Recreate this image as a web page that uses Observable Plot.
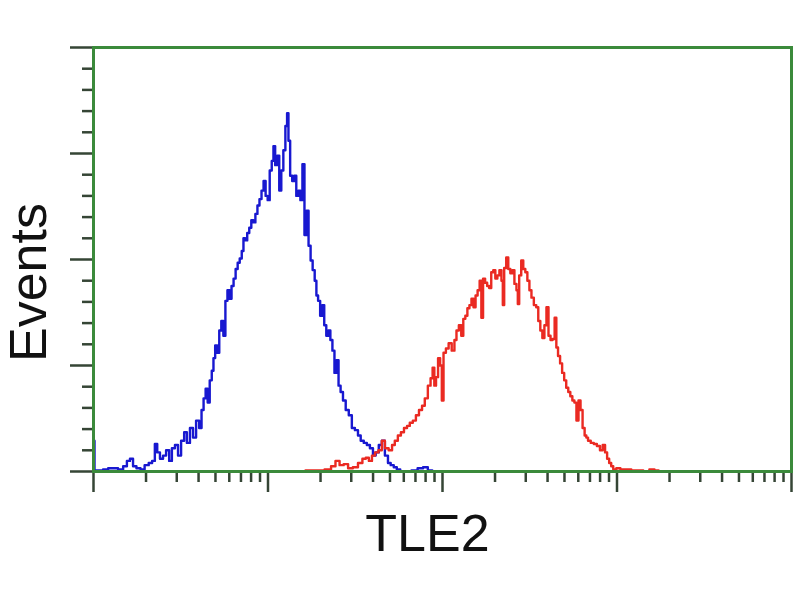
<!DOCTYPE html>
<html>
<head>
<meta charset="utf-8">
<script src="https://cdn.jsdelivr.net/npm/d3@7"></script>
<script src="https://cdn.jsdelivr.net/npm/@observablehq/plot@0.6"></script>
<style>
  html, body { margin: 0; padding: 0; background: #fff; }
  #chart { width: 800px; height: 600px; }
  svg { font-family: "Liberation Sans", Arial, sans-serif; }
</style>
</head>
<body>
<div id="chart"></div>
<script>
// Histogram data: [channel (0-1023, 4-decade log display), events]
const blueSeries = [[0,29],[3,1],[10,1],[18,2],[25,3],[32,3],[40,2],[47,5],[51,10],[56,12],[60,5],[66,3],[72,2],[78,6],[84,8],[88,10],[92,26],[95,18],[100,12],[104,15],[109,20],[113,10],[117,22],[122,25],[126,15],[131,29],[135,37],[139,27],[144,41],[148,32],[153,48],[157,41],[160,58],[163,69],[166,78],[169,65],[172,86],[175,95],[177,107],[180,119],[183,112],[186,133],[189,142],[192,128],[195,161],[198,171],[201,163],[204,175],[207,182],[210,191],[213,197],[216,201],[219,208],[221,220],[224,218],[227,225],[230,230],[233,237],[236,235],[239,243],[242,251],[245,257],[248,265],[251,274],[254,260],[257,256],[260,284],[263,293],[265,307],[268,289],[271,298],[274,265],[277,284],[280,303],[283,326],[285,338],[287,312],[290,279],[293,274],[296,279],[299,260],[302,265],[305,256],[308,290],[311,223],[314,246],[317,213],[320,199],[323,190],[326,180],[328,166],[331,161],[334,147],[337,157],[340,138],[343,128],[346,133],[349,124],[352,114],[355,93],[358,105],[361,81],[364,75],[368,67],[372,58],[377,53],[381,41],[386,39],[390,34],[394,29],[399,27],[403,25],[408,22],[412,15],[416,18],[421,25],[425,29],[430,15],[434,8],[438,6],[443,4],[447,2],[453,0],[462,0],[471,1],[480,3],[487,4],[494,1],[500,0]];

const redSeries = [[304,0],[318,1],[333,1],[345,2],[352,5],[358,10],[364,6],[370,7],[377,3],[384,4],[392,8],[397,12],[402,13],[406,10],[411,15],[415,18],[421,20],[425,29],[430,22],[436,20],[440,25],[444,29],[449,34],[453,37],[458,41],[462,43],[466,46],[471,48],[475,53],[480,58],[484,62],[488,69],[493,81],[496,88],[499,98],[501,81],[504,89],[507,107],[510,100],[512,67],[515,112],[519,116],[523,121],[528,114],[531,124],[534,133],[538,138],[541,128],[544,144],[547,147],[550,154],[553,157],[556,163],[559,155],[562,166],[565,171],[568,180],[570,145],[573,182],[576,178],[579,175],[582,173],[585,188],[588,190],[591,182],[594,185],[597,190],[600,180],[601,157],[604,192],[607,202],[610,191],[613,187],[616,190],[619,177],[622,171],[623,158],[626,185],[629,199],[632,191],[635,188],[638,180],[641,171],[644,164],[648,157],[651,155],[654,142],[657,133],[660,126],[663,138],[666,155],[669,128],[672,124],[675,125],[678,145],[680,117],[683,109],[686,102],[689,93],[692,86],[695,79],[698,75],[701,71],[704,67],[707,65],[710,48],[713,67],[716,58],[719,41],[722,34],[724,32],[727,29],[732,27],[736,26],[741,24],[745,20],[749,25],[752,18],[755,12],[758,8],[761,5],[764,2],[770,3],[776,2],[785,2],[793,1],[802,1],[811,0],[820,2],[826,1],[832,0]];

// Axis tick values
const decadeValues = [1, 10, 100, 1000, 10000];
const minorMultipliers = [2, 3, 4, 5, 6, 7, 8, 9];
const yMajorTicks = [0, 100, 200, 300, 400];
const yMinorTicks = [20, 40, 60, 80, 120, 140, 160, 180, 220, 240, 260, 280, 320, 340, 360, 380];
const xLabel = "TLE2";
const yLabel = "Events";

const toChannel = v => 256 * Math.log10(v);
const xMajorTicks = decadeValues.map(toChannel);
const xMinorTicks = decadeValues.slice(0, 4).flatMap(d => minorMultipliers.map(m => toChannel(d * m)));

const blue = blueSeries.map(([c, n]) => ({c, n}));
const red = redSeries.map(([c, n]) => ({c, n}));

const green = "#3b8a3b";
const tickColor = "#354535";

const chart = Plot.plot({
  width: 800,
  height: 600,
  marginLeft: 93,
  marginRight: 9,
  marginTop: 47,
  marginBottom: 129,
  style: {background: "#fff", fontFamily: "'Liberation Sans', Arial, sans-serif"},
  x: {type: "linear", domain: [0, 1024], axis: null},
  y: {type: "linear", domain: [0, 400], axis: null},
  marks: [
    Plot.axisY(yMinorTicks, {anchor: "left", tickSize: 11, tickFormat: () => "", stroke: tickColor, strokeWidth: 2.5, label: null}),
    Plot.axisY(yMajorTicks, {anchor: "left", tickSize: 23, tickFormat: () => "", stroke: tickColor, strokeWidth: 2.5, label: null}),
    Plot.axisX(xMinorTicks, {anchor: "bottom", tickSize: 11, tickFormat: () => "", stroke: tickColor, strokeWidth: 2.5, label: null}),
    Plot.axisX(xMajorTicks, {anchor: "bottom", tickSize: 21, tickFormat: () => "", stroke: tickColor, strokeWidth: 2.5, label: null}),
    Plot.line(blue, {x: "c", y: "n", stroke: "#1818d0", strokeWidth: 2.4, curve: "step"}),
    Plot.line(red, {x: "c", y: "n", stroke: "#ea2a22", strokeWidth: 2.4, curve: "step"}),
    Plot.frame({stroke: green, strokeWidth: 3}),
    Plot.text([xLabel], {frameAnchor: "bottom", text: d => d, dx: -15, dy: 79, lineAnchor: "bottom", textAnchor: "middle", fontSize: 52, fill: "#111"}),
    Plot.text([yLabel], {frameAnchor: "left", text: d => d, rotate: -90, dx: -48, dy: 23, lineAnchor: "bottom", textAnchor: "middle", fontSize: 52, fill: "#111"})
  ]
});
document.getElementById("chart").appendChild(chart);
</script>
</body>
</html>
